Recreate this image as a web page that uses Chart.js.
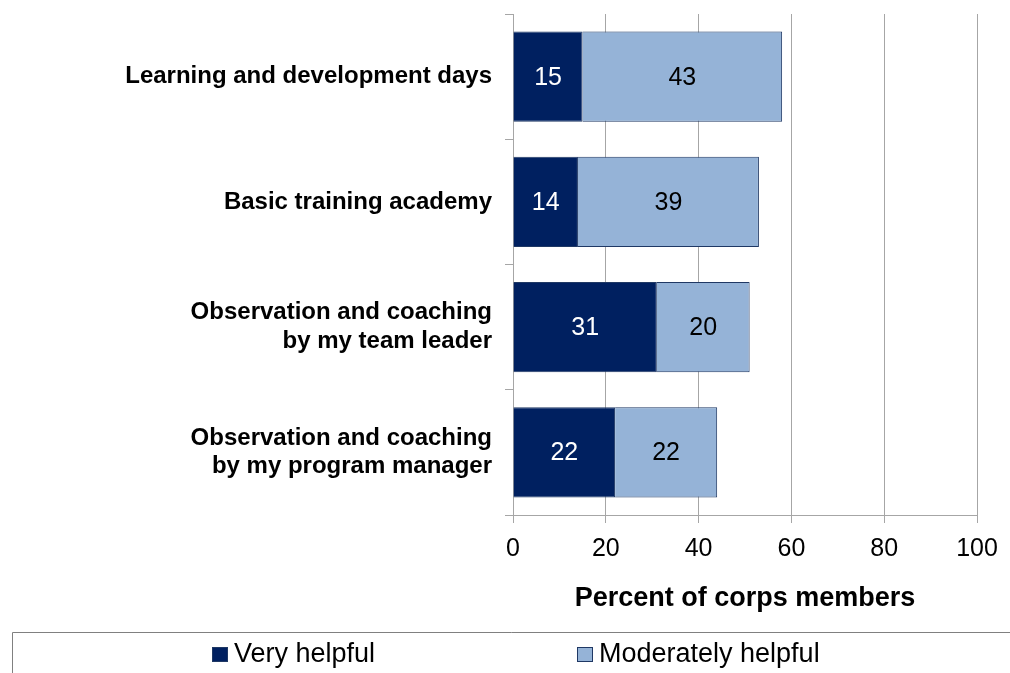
<!DOCTYPE html>
<html>
<head>
<meta charset="utf-8">
<script src="https://cdn.jsdelivr.net/npm/chart.js@4"></script>
<style>
  html, body { margin: 0; padding: 0; background: #fff; }
  #wrap { width: 1010px; height: 673px; }
</style>
</head>
<body>
<div id="wrap"><canvas id="chart"></canvas></div>
<script>
// chart values
const categories = [
  'Learning and development days',
  'Basic training academy',
  ['Observation and coaching', 'by my team leader'],
  ['Observation and coaching', 'by my program manager']
];
const veryHelpful = [15, 14, 31, 22];
const moderatelyHelpful = [43, 39, 20, 22];
const seriesNames = ['Very helpful', 'Moderately helpful'];
const xTicks = [0, 20, 40, 60, 80, 100];

const FONT = "'Liberation Sans', Arial, sans-serif";
const GRID = '#a6a6a6';

// value labels in the middle of each bar
const barLabels = {
  id: 'barLabels',
  afterDatasetsDraw(chart) {
    const ctx = chart.ctx;
    ctx.save();
    ctx.font = '25px ' + FONT;
    ctx.textAlign = 'center';
    ctx.textBaseline = 'middle';
    chart.data.datasets.forEach((ds, i) => {
      const meta = chart.getDatasetMeta(i);
      ctx.fillStyle = i === 0 ? '#ffffff' : '#000000';
      meta.data.forEach((bar, j) => {
        ctx.fillText(String(ds.data[j]), (bar.x + bar.base) / 2, bar.y + 1);
      });
    });
    ctx.restore();
  }
};

// legend drawn in a framed strip at the bottom (like the excel one)
const boxLegend = {
  id: 'boxLegend',
  afterDraw(chart) {
    const ctx = chart.ctx;
    const top = chart.height - 41;
    ctx.save();
    ctx.strokeStyle = '#808080';
    ctx.lineWidth = 1;
    ctx.beginPath();
    ctx.moveTo(12.5, chart.height);
    ctx.lineTo(12.5, top + 0.5);
    ctx.lineTo(chart.width, top + 0.5);
    ctx.stroke();

    const starts = [Math.round(chart.width * 0.21), Math.round(chart.width * 0.571)];
    ctx.font = '27px ' + FONT;
    ctx.textBaseline = 'middle';
    ctx.textAlign = 'left';
    chart.data.datasets.forEach((ds, i) => {
      const x = starts[i];
      const y = top + 23;
      ctx.fillStyle = ds.backgroundColor;
      ctx.fillRect(x, y - 8, 16, 15);
      ctx.strokeStyle = '#1f3864';
      ctx.strokeRect(x + 0.5, y - 7.5, 15, 14);
      ctx.fillStyle = '#000';
      ctx.fillText(ds.label, x + 22, y);
    });
    ctx.restore();
  }
};

const ctx = document.getElementById('chart').getContext('2d');
new Chart(ctx, {
  type: 'bar',
  data: {
    labels: categories,
    datasets: [
      {
        label: seriesNames[0],
        data: veryHelpful,
        backgroundColor: '#002060',
        borderColor: '#1f3864',
        borderWidth: 1
      },
      {
        label: seriesNames[1],
        data: moderatelyHelpful,
        backgroundColor: '#95b3d7',
        borderColor: '#1f3864',
        borderWidth: 1
      }
    ]
  },
  options: {
    indexAxis: 'y',
    responsive: true,
    maintainAspectRatio: false,
    animation: false,
    devicePixelRatio: 1,
    layout: { padding: { top: 14, right: 33, left: 0, bottom: 41 } },
    datasets: {
      bar: { categoryPercentage: 0.72, barPercentage: 1 }
    },
    plugins: {
      legend: { display: false },
      tooltip: { enabled: false }
    },
    scales: {
      x: {
        stacked: true,
        min: 0,
        max: 100,
        afterBuildTicks(scale) {
          scale.ticks = xTicks.map(v => ({ value: v }));
        },
        afterFit(scale) { scale.height = 117; },
        grid: {
          color: GRID,
          lineWidth: 1,
          tickLength: 8,
          drawTicks: true
        },
        border: { color: GRID },
        ticks: {
          color: '#000',
          padding: 11,
          font: { family: FONT, size: 25 }
        },
        title: {
          display: true,
          text: 'Percent of corps members',
          color: '#000',
          font: { family: FONT, size: 27, weight: 'bold' },
          padding: { top: 0, bottom: 17 }
        }
      },
      y: {
        stacked: true,
        afterFit(scale) {
          scale.width = 513;
          scale.paddingTop = 0;
          scale.paddingBottom = 0;
        },
        grid: {
          offset: true,
          drawOnChartArea: false,
          color: GRID,
          tickLength: 8
        },
        border: { color: GRID },
        ticks: {
          color: '#000',
          padding: 13,
          font: { family: FONT, size: 24, weight: 'bold' }
        }
      }
    }
  },
  plugins: [barLabels, boxLegend]
});
</script>
</body>
</html>
